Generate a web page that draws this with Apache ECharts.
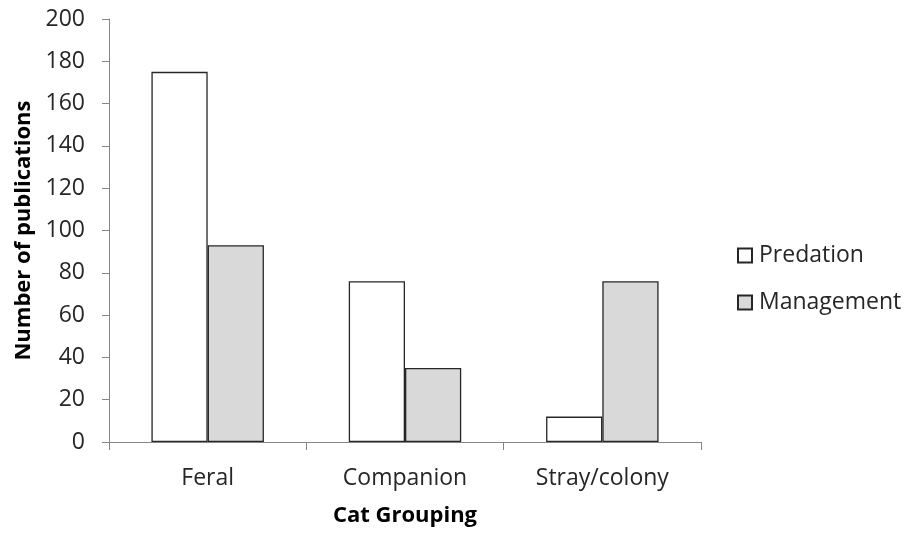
<!DOCTYPE html>
<html><head><meta charset="utf-8">
<script src="https://cdn.jsdelivr.net/npm/echarts@6/dist/echarts.min.js"></script>
<style>html,body{margin:0;padding:0;background:#fff}#c{width:910px;height:535px}</style>
</head><body><div id="c"></div>
<script>
var categories = ["Feral", "Companion", "Stray/colony"];
var predation = [175, 76, 12];
var management = [93, 35, 76];
var yTicks = [0, 20, 40, 60, 80, 100, 120, 140, 160, 180, 200];

var font = '"Open Sans", "Noto Sans", sans-serif';
var chart = echarts.init(document.getElementById('c'), null, {renderer: 'canvas'});
chart.setOption({
  animation: false,
  backgroundColor: '#ffffff',
  grid: {left: 109, right: 209, top: 19, bottom: 93, containLabel: false},
  legend: {
    orient: 'vertical', left: 732, top: 239, itemGap: 24,
    itemWidth: 14, itemHeight: 14, icon: 'rect',
    textStyle: {fontFamily: font, fontSize: 23, color: '#262626', padding: [0,0,0,2]},
    data: ['Predation', 'Management']
  },
  xAxis: {
    type: 'category', data: categories,
    name: 'Cat Grouping', nameLocation: 'middle', nameGap: 63, nameMoveOverlap: false,
    nameTextStyle: {fontFamily: font, fontSize: 22, fontWeight: 'bold', color: '#000'},
    axisLine: {lineStyle: {color: '#868686', width: 1}},
    axisTick: {show: true, length: 8, lineStyle: {color: '#868686'}},
    axisLabel: {fontFamily: font, fontSize: 23, color: '#262626', margin: 25}
  },
  yAxis: {
    type: 'value', min: yTicks[0], max: yTicks[yTicks.length-1], interval: 20,
    name: 'Number of publications', nameLocation: 'middle', nameGap: 74, nameRotate: 90, nameMoveOverlap: false,
    nameTextStyle: {fontFamily: font, fontSize: 22, fontWeight: 'bold', color: '#000'},
    axisLine: {show: true, lineStyle: {color: '#868686', width: 1}},
    axisTick: {show: true, length: 7, lineStyle: {color: '#868686'}},
    splitLine: {show: false},
    axisLabel: {fontFamily: font, fontSize: 23, color: '#262626', margin: 24}
  },
  series: [
    {name: 'Predation', type: 'bar', data: predation, barGap: '0%', barCategoryGap: '43%',
     itemStyle: {color: '#ffffff', borderColor: '#262626', borderWidth: 1.3}},
    {name: 'Management', type: 'bar', data: management, barGap: '0%', barCategoryGap: '43%',
     itemStyle: {color: '#d9d9d9', borderColor: '#262626', borderWidth: 1.3}}
  ]
});
</script></body></html>
